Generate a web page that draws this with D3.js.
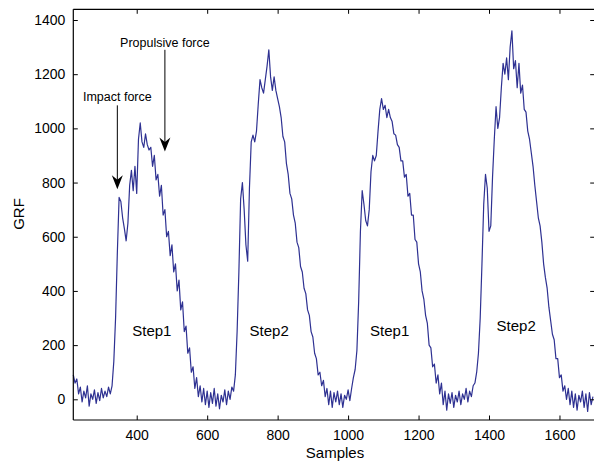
<!DOCTYPE html>
<html><head><meta charset="utf-8">
<script src="https://cdn.jsdelivr.net/npm/d3@7"></script>
<style>html,body{margin:0;padding:0;background:#fff;}svg{display:block;font-family:"Liberation Sans",Arial,sans-serif;}</style>
</head><body>
<svg id="chart" width="594" height="464"></svg>
<script>
// Sample index of the first value and spacing between values
const sampleStart = 220;
const sampleStep = 5;
// GRF values (one per 5 samples)
const grf = [
  90, 60, 75, 20, 45, -10, 30, 5, 50, -25,          // 220
  20, 0, 35, -15, 25, -5, 40, 5, 30, 10,            // 270
  45, 20, 50, 140, 300, 540, 745, 730, 670, 630,    // 320
  585, 650, 790, 845, 770, 860, 760, 960, 1020, 950,// 370
  930, 980, 940, 920, 930, 860, 900, 810, 830, 750, // 420
  790, 680, 700, 600, 620, 530, 570, 470, 500, 400, // 470
  440, 330, 360, 250, 270, 170, 190, 100, 120, 40,  // 520
  80, 10, 50, -10, 40, -20, 30, -30, 25, -15,       // 570
  40, -25, 20, -35, 15, -10, 35, -20, 30, 0,        // 620
  45, 30, 90, 250, 470, 740, 800, 700, 570, 510,    // 670
  780, 950, 975, 950, 990, 1090, 1180, 1150, 1130, 1180, // 720
  1230, 1290, 1190, 1140, 1190, 1140, 1110, 1080, 1040, 970, // 770
  950, 870, 830, 760, 740, 680, 650, 580, 560, 490, // 820
  470, 410, 390, 330, 310, 250, 230, 170, 150, 90,  // 870
  100, 50, 70, 10, 40, -20, 30, -30, 25, -10,       // 920
  30, -20, 20, -30, 15, 0, 35, -5, 40, 80,          // 970
  110, 180, 360, 620, 770, 720, 660, 640, 700, 840, // 1020
  900, 880, 900, 990, 1070, 1110, 1070, 1085, 1040, 1070, // 1070
  1040, 1025, 980, 975, 940, 930, 880, 880, 820, 830, // 1120
  750, 760, 680, 680, 590, 580, 500, 470, 400, 370, // 1170
  310, 280, 200, 190, 120, 130, 60, 90, 20, 60,     // 1220
  -20, 30, -40, 20, -15, 25, -30, 15, -10, 30,      // 1270
  -20, 20, 0, 40, -10, 30, 10, 50, 60, 100,         // 1320
  170, 300, 500, 720, 830, 780, 620, 640, 820, 960, // 1370
  1080, 1000, 1040, 1150, 1240, 1200, 1260, 1180, 1300, 1360, // 1420
  1220, 1250, 1150, 1240, 1130, 1160, 1070, 1060, 990, 960, // 1470
  910, 860, 790, 730, 670, 640, 580, 500, 450, 410, // 1520
  340, 290, 240, 220, 150, 150, 80, 90, 30, 50,     // 1570
  0, 40, -20, 30, -30, 20, -40, 15, -10, 30,        // 1620
  -30, 20, -45, 25, -20, 10                         // 1670
];
const xTicks = [400, 600, 800, 1000, 1200, 1400, 1600];
const yTicks = [0, 200, 400, 600, 800, 1000, 1200, 1400];
const stepLabels = [
  {text: "Step1", x: 443, y: 234},
  {text: "Step2", x: 776, y: 234},
  {text: "Step1", x: 1118, y: 234},
  {text: "Step2", x: 1477, y: 252}
];
const annotations = [
  {text: "Impact force", tx: 345, ty: 1100, ax: 345, y0: 1085, y1: 775},
  {text: "Propulsive force", tx: 480, ty: 1300, ax: 480, y0: 1290, y1: 915}
];

const svg = d3.select("#chart");
const L = 73.3, R = 594.7, T = 9.3, B = 420;
const x = d3.scaleLinear().domain([220, 1700]).range([L, R]);
const y = d3.scaleLinear().domain([-76.4, 1439.5]).range([B, T]);
const ink = "#000";

// data line
const pts = grf.map((v, i) => [sampleStart + i * sampleStep, v]);
svg.append("path")
  .datum(pts)
  .attr("fill", "none")
  .attr("stroke", "#2e3192")
  .attr("stroke-width", 1.2)
  .attr("stroke-linejoin", "round")
  .attr("d", d3.line().x(d => x(d[0])).y(d => y(d[1])));

// axes (ticks inward, MATLAB style)
const tl = 4.5;
const gBottom = svg.append("g").attr("transform", `translate(0,${B})`)
  .call(d3.axisBottom(x).tickValues(xTicks).tickSize(-tl).tickPadding(10).tickFormat(d3.format("d")));
const gTop = svg.append("g").attr("transform", `translate(0,${T})`)
  .call(d3.axisTop(x).tickValues(xTicks).tickSize(-tl).tickFormat(""));
const gLeft = svg.append("g").attr("transform", `translate(${L},0)`)
  .call(d3.axisLeft(y).tickValues(yTicks).tickSize(-tl).tickPadding(8).tickFormat(d3.format("d")));
const gRight = svg.append("g").attr("transform", `translate(${R},0)`)
  .call(d3.axisRight(y).tickValues(yTicks).tickSize(-tl).tickFormat(""));
[gBottom, gTop, gLeft, gRight].forEach(g => {
  g.select(".domain").attr("stroke", ink).attr("stroke-width", 1.2);
  g.selectAll(".tick line").attr("stroke", ink);
  g.selectAll("text").attr("fill", ink).style("font-size", "14px")
    .style("font-family", "'Liberation Sans', Arial, sans-serif");
});
gBottom.select(".domain").attr("d", `M${L},0H${R}`);
gTop.select(".domain").attr("d", `M${L},0H${R}`);
gLeft.select(".domain").attr("d", `M0,${B}V${T}`);
gRight.select(".domain").attr("d", `M0,${B}V${T}`);

// axis labels
svg.append("text").attr("x", 335).attr("y", 458)
  .attr("text-anchor", "middle").style("font-size", "15px").text("Samples");
svg.append("text").attr("transform", "translate(24,214) rotate(-90)")
  .attr("text-anchor", "middle").style("font-size", "15px").text("GRF");

// step labels
svg.selectAll("text.step").data(stepLabels).enter().append("text")
  .attr("class", "step")
  .attr("x", d => x(d.x)).attr("y", d => y(d.y))
  .attr("text-anchor", "middle").style("font-size", "15px").text(d => d.text);

// annotations with arrows
annotations.forEach(a => {
  svg.append("text").attr("x", x(a.tx)).attr("y", y(a.ty))
    .attr("text-anchor", "middle").style("font-size", "12.5px").text(a.text);
  const ax = x(a.ax), y0 = y(a.y0), y1 = y(a.y1);
  svg.append("line").attr("x1", ax).attr("x2", ax).attr("y1", y0).attr("y2", y1 - 8)
    .attr("stroke", "#000").attr("stroke-width", 1);
  svg.append("path")
    .attr("d", `M${ax},${y1} L${ax - 5.5},${y1 - 14} L${ax},${y1 - 9.5} L${ax + 5.5},${y1 - 14} Z`)
    .attr("fill", "#000");
});
</script>
</body></html>
